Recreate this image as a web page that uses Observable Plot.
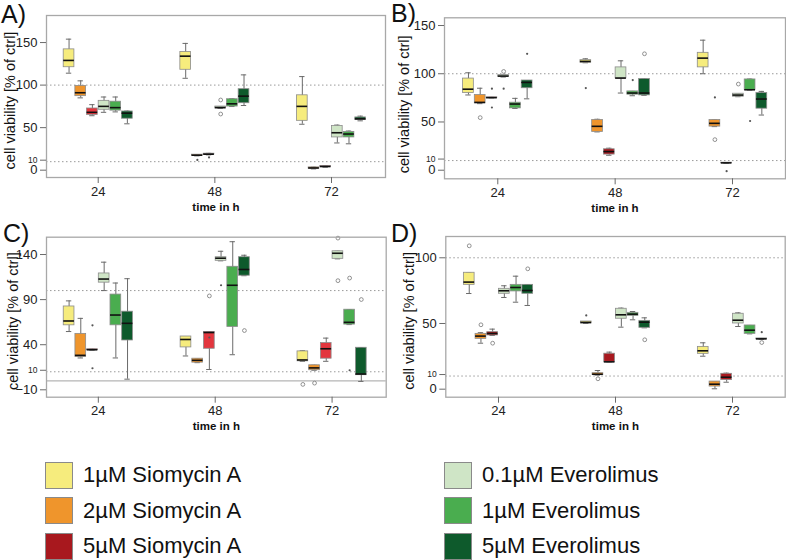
<!DOCTYPE html>
<html>
<head>
<meta charset="utf-8">
<script src="https://cdn.jsdelivr.net/npm/d3@7"></script>
<script src="https://cdn.jsdelivr.net/npm/@observablehq/plot@0.6"></script>
<style>
  html, body { margin: 0; padding: 0; background: #fff; }
  #root { position: relative; width: 786px; height: 560px; font-family: "Liberation Sans", Arial, sans-serif; overflow: hidden; }
  .panel { position: absolute; }
  .panel svg { background: transparent; overflow: visible; }
  .tag { position: absolute; font-size: 25px; line-height: 28px; color: #111; }
  .leg { position: absolute; display: flex; align-items: center; font-size: 22px; color: #111; }
  .sw { width: 26px; height: 25px; border: 1px solid #8a8a8a; margin-right: 10px; }
</style>
</head>
<body>
<div id="root"></div>
<script>
// ---------- data ----------
const groups = ["1µM Siomycin A", "2µM Siomycin A", "5µM Siomycin A", "0.1µM Everolimus", "1µM Everolimus", "5µM Everolimus"];
const times = [24, 48, 72];
const groupColors = ["#f6ec7d", "#ef952c", "#a8181e", "#cfe5c6", "#4aad4f", "#0e5a2c"];
const brightRed = "#e3363e";

// rows: [time, group, lower whisker, q1, median, q3, upper whisker]
const boxesA = [
  [24,0,114,121,129,142,154],[24,1,85,87,91,99,105],[24,2,64,65,68,72.5,77],
  [24,3,68,71,75,81.5,86],[24,4,68.5,70,73.5,80.5,86],[24,5,54.5,60.5,67,69,69.5],
  [48,0,108,118,134,139,149],[48,1,16.8,17,17.6,18.2,18.4],[48,2,18,18.4,18.8,19.4,19.8],
  [48,3,72.5,72.5,73.6,74.8,74.8],[48,4,74.8,74.8,78,83.4,84],[48,5,76,78.7,87,95.2,112],
  [72,0,54,58,75,88,110],[72,1,1.5,1.8,2.6,3.3,3.5],[72,2,3.5,3.8,4.3,4.8,5],
  [72,3,32,38.5,44,52,53],[72,4,31,38.5,42.5,45,46],[72,5,58,59,60.3,62,63.5]
];
// outliers: [time, group, value, kind]  kind "o" = circle, "*" = extreme
const outliersA = [[48,1,12,"*"],[48,2,15,"*"],[48,3,82.5,"o"],[48,3,66,"o"]];

const boxesB = [
  [24,0,78,80,84,95,101],[24,1,69,69.3,70.3,78,85],[24,2,75,75,75.2,75.5,75.5],
  [24,3,96.6,96.6,97.6,98.6,98.6],[24,4,64,64.1,68.6,70,74.5],[24,5,74,85,91,93,93],
  [48,0,111.4,111.4,112.8,114.1,115.5],[48,1,39.7,39.7,45.5,52.1,52.8],[48,2,15.5,16.2,19.3,21.7,22.8],
  [48,3,80,95.2,95.5,106.6,113.4],[48,4,77.2,78.3,80,81.7,81.7],[48,5,77.6,77.6,80,94.5,94.5],
  [72,0,100,106.6,116.2,121.7,134.8],[72,1,45.2,45.2,48.6,52.1,52.1],[72,2,7.4,7.5,7.6,7.8,7.8],
  [72,3,76.2,76.2,77.9,79.3,79.3],[72,4,83.1,83.1,83.4,94.1,94.5],[72,5,57.2,63.8,73.8,80,81.7]
];
const outliersB = [
  [24,1,54.5,"o"],[24,2,84.5,"*"],[24,2,65,"*"],[24,3,102.4,"o"],[24,3,84.5,"*"],[24,5,120.7,"*"],
  [48,0,85.2,"*"],[48,4,93.4,"*"],[48,5,120.7,"o"],
  [72,1,75.5,"*"],[72,1,31.7,"o"],[72,2,-1,"*"],[72,3,89.3,"o"],[72,4,51,"*"]
];

const boxesC = [
  [24,0,54.6,61.5,66.3,82.4,88.6],[24,1,25.3,26.4,28.2,52,69.2],[24,2,34,34,34.4,35,35],
  [24,3,100,108.8,112.8,119,131.5],[24,4,25.3,61.5,72.9,95.6,108.4],[24,5,1.8,44.7,63.7,76.6,113.2],
  [48,0,27.5,37,45.8,49.1,49.1],[48,1,20.1,20.1,22.7,24.5,24.5],[48,2,12.5,35.5,53.5,54.2,54.2],
  [48,3,133,133,135.9,137,143.6],[48,4,28.9,59.7,105.9,126.4,154.2],[48,5,116.5,116.5,123.4,137,139.2],
  [72,0,21.6,21.6,23.1,32.6,33.3],[72,1,11.7,11.7,14.3,17.2,17.2],[72,2,21.6,24.5,35.5,41.8,47.3],
  [72,3,135.2,135.2,141.4,143.6,143.6],[72,4,62.3,62.3,64.8,78.8,78.8],[72,5,-0.7,6.2,7.5,36.6,36.6]
];
const outliersC = [
  [24,2,61.5,"*"],[24,2,13.9,"*"],
  [48,2,94.1,"o"],[48,2,48,"*"],[48,3,105.9,"*"],[48,5,55.7,"o"],
  [72,0,-4,"o"],[72,1,-2.6,"o"],[72,3,158.2,"o"],[72,3,111,"o"],[72,4,113.9,"o"],[72,4,11.7,"*"],[72,5,90.1,"o"]
];

const boxesD = [
  [24,0,72.8,79.4,81.5,88.6,88.6],[24,1,35,38.3,40.4,42.1,43],[24,2,40.9,40.9,42.4,43.4,45.7],
  [24,3,69.8,72.6,74.9,76.4,78.7],[24,4,66.2,74.4,77.4,79.4,86],[24,5,63.7,72.6,75.1,79.4,79.4],
  [48,0,50,50,50.8,51.5,51.5],[48,1,10.7,10.7,11.4,12.2,14.2],[48,2,20.8,20.8,20.8,27,28.2],
  [48,3,47.2,53.6,56.6,61.2,61.7],[48,4,52.8,55.8,57.1,58.1,59.1],[48,5,46.7,46.7,51,52,54.3],
  [72,0,25.1,26.9,29.2,32.2,35.3],[72,1,0.3,2,3.8,5.8,5.8],[72,2,5.3,6.9,9.1,11.7,12.2],
  [72,3,47.7,50,52.5,57.4,58.1],[72,4,42.1,42.1,44.9,48.5,48.5],[72,5,38,38,38.3,38.6,38.6]
];
const outliersD = [
  [24,0,109.1,"o"],[24,1,49,"o"],[24,2,35,"o"],[24,5,91.6,"o"],
  [48,0,56.1,"*"],[48,1,7.9,"o"],[48,5,37.6,"o"],
  [72,5,43.4,"*"],[72,5,35.5,"o"]
];

const yTicksA = [0, 50, 100, 150], yTicksB = [0, 50, 100, 150], yTicksC = [-10, 40, 90, 140], yTicksD = [0, 50, 100];
const smallTick = [10];
const refLines = [10, 100];

// ---------- drawing ----------
const STEP = 2.4, HALF = 1.1, CAP = 0.55;
const pos = d => d[0] + (d[1] - 2.5) * STEP;

function panel(cfg) {
  const colors = groupColors.map((c, i) => (i === 2 && cfg.bright ? brightRed : c));
  const boxes = cfg.boxes.map(d => ({x: pos(d), g: d[1], lo: d[2], q1: d[3], med: d[4], q3: d[5], hi: d[6], fill: colors[d[1]]}));
  const outs = cfg.outliers.map(d => ({x: pos(d), v: d[2], kind: d[3]}));
  const gray = "#6a6a6a";
  const marks = [
    Plot.ruleY(refLines, {stroke: "#9a9a9a", strokeDasharray: "1.5,2.5", strokeWidth: 1}),
    ...(cfg.zero ? [Plot.ruleY([0], {stroke: "#b5b5b5", strokeWidth: 1.2})] : []),
    Plot.ruleX(boxes, {x: "x", y1: "lo", y2: "hi", stroke: gray, strokeWidth: 1}),
    Plot.ruleY(boxes, {y: "hi", x1: d => d.x - CAP, x2: d => d.x + CAP, stroke: gray, strokeWidth: 1}),
    Plot.ruleY(boxes, {y: "lo", x1: d => d.x - CAP, x2: d => d.x + CAP, stroke: gray, strokeWidth: 1}),
    Plot.rect(boxes, {x1: d => d.x - HALF, x2: d => d.x + HALF, y1: "q1", y2: "q3", fill: "fill", stroke: "#8c8c8c", strokeWidth: 0.8}),
    Plot.ruleY(boxes, {y: "med", x1: d => d.x - HALF, x2: d => d.x + HALF, stroke: "#111", strokeWidth: 1.6}),
    Plot.dot(outs.filter(d => d.kind === "o"), {x: "x", y: "v", r: 1.9, stroke: "#777", fill: "white", strokeWidth: 0.8}),
    Plot.dot(outs.filter(d => d.kind === "*"), {x: "x", y: "v", r: 1.1, fill: "#555", stroke: null}),
    Plot.frame({stroke: "#a8a8a8", strokeWidth: 1.3}),
    Plot.axisY(cfg.yTicks, {tickSize: 6, tickPadding: 3, fontSize: 13, label: null, stroke: gray, color: "#222"}),
    Plot.axisY(smallTick, {tickSize: 6, tickPadding: 3, fontSize: 8.5, dy: -1.5, label: null, stroke: gray, color: "#222"}),
    Plot.axisX(times, {tickSize: 6, tickPadding: 3, fontSize: 13, label: null, stroke: gray, color: "#222"}),
    Plot.text(["cell viability [% of ctrl]"], {frameAnchor: "left", textAnchor: "middle", lineAnchor: "middle", dx: -cfg.ylabDx, dy: cfg.ylabDy || 0, rotate: -90, fontSize: 14.5, fill: "#111"}),
    Plot.text(["time in h"], {frameAnchor: "bottom", textAnchor: "middle", dy: 33, fontSize: 11.5, fontWeight: "bold", fill: "#111"})
  ];
  const svg = Plot.plot({
    width: cfg.width, height: cfg.height,
    marginLeft: cfg.ml, marginRight: cfg.mr, marginTop: cfg.mt, marginBottom: cfg.mb,
    style: {fontFamily: "Liberation Sans, Arial, sans-serif", background: "transparent", overflow: "visible"},
    x: {type: "linear", domain: cfg.xDomain},
    y: {type: "linear", domain: cfg.yDomain},
    color: {type: "identity"},
    marks
  });
  const div = document.createElement("div");
  div.className = "panel";
  div.style.left = cfg.left + "px";
  div.style.top = cfg.top + "px";
  div.appendChild(svg);
  document.getElementById("root").appendChild(div);

  const tag = document.createElement("div");
  tag.className = "tag";
  tag.textContent = cfg.tag;
  tag.style.left = cfg.tagX + "px";
  tag.style.top = cfg.tagY + "px";
  document.getElementById("root").appendChild(tag);
}

panel({tag: "A)", tagX: 1, tagY: 0, left: 0, top: 0, width: 393, height: 222, ml: 46, mr: 8, mt: 15, mb: 45,
  xDomain: [13.36, 83.11], yDomain: [-8.6, 181.8], yTicks: yTicksA, boxes: boxesA, outliers: outliersA, bright: true, ylabDx: 36, ylabDy: 4});
panel({tag: "B)", tagX: 391, tagY: -1, left: 393, top: 0, width: 393, height: 222, ml: 51, mr: 1, mt: 17.3, mb: 43.7,
  xDomain: [13.1, 82.84], yDomain: [-8.9, 158], yTicks: yTicksB, boxes: boxesB, outliers: outliersB, bright: false, ylabDx: 40, ylabDy: 6});
panel({tag: "C)", tagX: 3, tagY: 219, left: 0, top: 200, width: 393, height: 240, ml: 46, mr: 7.3, mt: 36.7, mb: 43.3,
  xDomain: [13.36, 83.11], yDomain: [-18.2, 159.2], yTicks: yTicksC, boxes: boxesC, outliers: outliersC, bright: true, zero: true, ylabDx: 33, ylabDy: 4});
panel({tag: "D)", tagX: 391, tagY: 219, left: 393, top: 200, width: 393, height: 240, ml: 52.3, mr: 1.3, mt: 36, mb: 43.3,
  xDomain: [13.19, 82.81], yDomain: [-6.1, 116.2], yTicks: yTicksD, boxes: boxesD, outliers: outliersD, bright: false, ylabDx: 36, ylabDy: 4});

// ---------- legend ----------
const legendRows = [475, 510.5, 546];
groups.forEach((name, i) => {
  const col = i < 3 ? 0 : 1;
  const row = i % 3;
  const el = document.createElement("div");
  el.className = "leg";
  el.style.left = (col === 0 ? 45 : 444) + "px";
  el.style.top = (legendRows[row] - 14) + "px";
  el.style.height = "28px";
  const sw = document.createElement("div");
  sw.className = "sw";
  sw.style.background = groupColors[i];
  const tx = document.createElement("span");
  tx.textContent = name;
  el.appendChild(sw);
  el.appendChild(tx);
  document.getElementById("root").appendChild(el);
});
</script>
</body>
</html>
